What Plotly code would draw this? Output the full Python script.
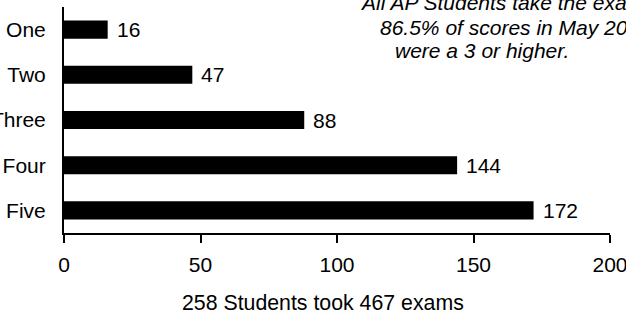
import plotly.graph_objects as go

categories = ["One", "Two", "Three", "Four", "Five"]
counts = [16, 47, 88, 144, 172]
x_ticks = [0, 50, 100, 150, 200]
x_title = "258 Students took 467 exams"
note_lines = [
    "All AP Students take the exam.",
    "86.5% of scores in May 2009",
    "were a 3 or higher.",
]

FONT = "Arial, Liberation Sans, sans-serif"
W, H = 626, 316
L, R, T, B = 64, 16, 7, 83
PW, PH = W - L - R, H - T - B

fig = go.Figure()
fig.add_trace(go.Bar(
    x=counts, y=categories, orientation="h",
    marker=dict(color="black", line=dict(width=0)),
    width=0.4,
))

for c, v in zip(categories, counts):
    fig.add_annotation(x=v, y=c, xref="x", yref="y", text=str(v),
                       showarrow=False, xanchor="left", xshift=7,
                       font=dict(family=FONT, size=21, color="black"))

note_px = [(358, 3), (378, 27), (393, 51)]
for line, (px, py) in zip(note_lines, note_px):
    fig.add_annotation(x=(px - L) / PW, y=1 - (py - T) / PH, xref="paper", yref="paper",
                       text=line, showarrow=False, xanchor="left", yanchor="middle",
                       font=dict(family=FONT, size=21, color="black", style="italic"))

# x-axis caption (sits slightly left of the plot-area centre in the reference)
fig.add_annotation(x=(323 - L) / PW, y=1 - (303 - T) / PH, xref="paper", yref="paper",
                   text=x_title, showarrow=False, xanchor="center", yanchor="middle",
                   font=dict(family=FONT, size=21.3, color="black"))

fig.update_layout(
    width=W, height=H,
    margin=dict(l=L, r=R, t=T, b=B, pad=0, autoexpand=False),
    paper_bgcolor="white", plot_bgcolor="white",
    showlegend=False,
    font=dict(family=FONT, size=21, color="black"),
    bargap=0.6,
)
fig.update_xaxes(
    range=[0, 200], tickvals=x_ticks, ticktext=[str(t) for t in x_ticks],
    showgrid=False, zeroline=False, automargin=False,
    showline=True, linecolor="black", linewidth=2,
    ticks="outside", ticklen=8, tickwidth=2, tickcolor="black",
    ticklabeloverflow="allow", ticklabelstandoff=4,
    tickfont=dict(family=FONT, size=21, color="black"),
)
fig.update_yaxes(
    categoryorder="array", categoryarray=categories, autorange="reversed",
    showgrid=False, zeroline=False, automargin=False,
    showline=True, linecolor="black", linewidth=2,
    ticks="", ticklabelstandoff=12, ticklabeloverflow="allow",
    tickfont=dict(family=FONT, size=21, color="black"),
)

fig.write_html("out.html", config={"displayModeBar": False},
               post_script="document.body.style.margin='0';")
